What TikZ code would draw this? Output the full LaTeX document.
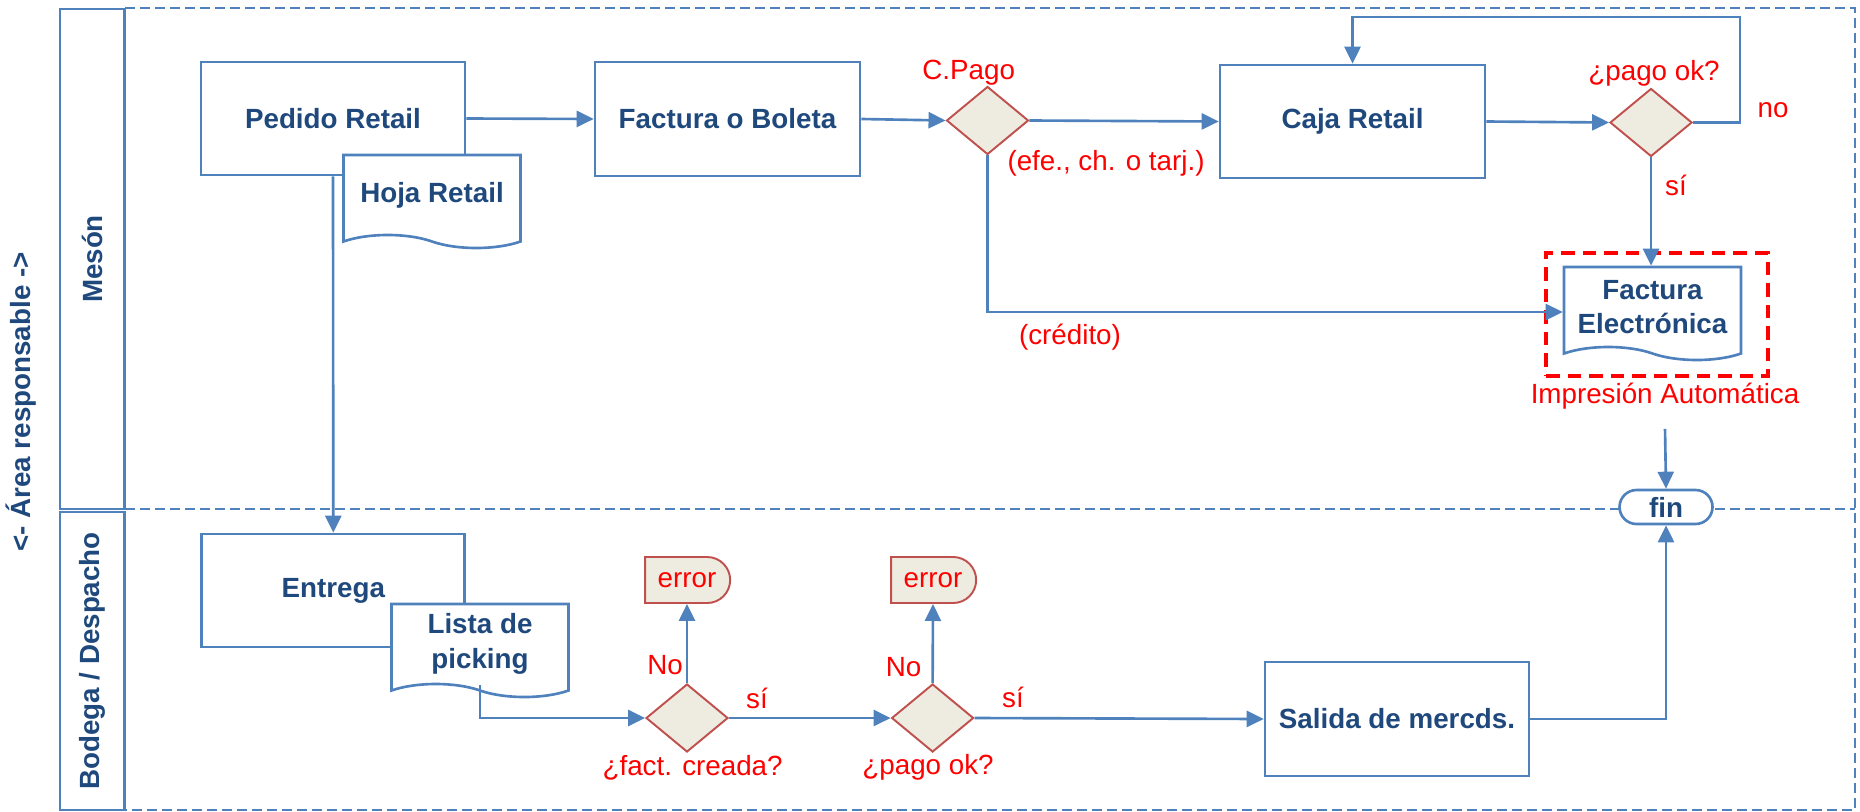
\documentclass[tikz,border=0pt]{standalone}
\usepackage{fontspec}
\setmainfont{Liberation Sans}
\usepackage{tikz}
\usetikzlibrary{shapes.geometric, shapes.symbols, shapes.misc, arrows.meta}

\definecolor{lineblue}{RGB}{79,129,189}
\definecolor{textblue}{RGB}{31,73,125}
\definecolor{decfill}{RGB}{238,236,225}
\definecolor{decline}{RGB}{192,80,77}
\newcommand{\sz}{\fontsize{7.9pt}{9.8pt}\selectfont}

\begin{document}
\begin{tikzpicture}[box/.style={rectangle, draw=lineblue, line width=0.75pt, fill=white, inner sep=0pt, minimum width=2.64cm, minimum height=1.13cm, font=\sz\bfseries, text=textblue}, doc/.style={tape, tape bend top=none, tape bend bottom=out and in, tape bend height=0.13cm, draw=lineblue, line width=0.75pt, fill=white, inner sep=0pt, minimum width=1.77cm, minimum height=0.93cm, align=center, font=\sz\bfseries, text=textblue}, dec/.style={diamond, draw=decline, line width=0.55pt, fill=decfill, inner sep=0pt, minimum width=0.82cm, minimum height=0.68cm}, err/.style={rounded rectangle, rounded rectangle left arc=none, draw=decline, line width=0.55pt, fill=decfill, inner sep=0pt, minimum width=0.85cm, minimum height=0.46cm, font=\sz, text=red}, term/.style={rounded rectangle, draw=lineblue, line width=0.75pt, fill=white, inner sep=0pt, minimum width=0.93cm, minimum height=0.34cm, font=\sz\bfseries, text=textblue}, lane/.style={rectangle, draw=lineblue, line width=0.75pt, inner sep=0pt, minimum height=0.645cm, font=\sz\bfseries, text=textblue}, lbl/.style={inner sep=0pt, font=\sz, text=red}, swim/.style={draw=lineblue, line width=0.6pt, dash pattern=on 0.1cm off 0.05cm}, auto/.style={rectangle, draw=red, line width=1.05pt, dash pattern=on 0.135cm off 0.08cm, inner sep=0pt, minimum width=2.215cm, minimum height=1.23cm}, n/.style={-{Triangle[length=0.17cm, width=0.16cm]}, draw=lineblue, line width=0.75pt}]
            \useasboundingbox (0,0) rectangle (18.6,-8.11);
            % lanes
            \draw[swim] (1.25,-0.08) -- (18.55,-0.08) -- (18.55,-8.10) -- (1.25,-8.10);
            \draw[swim] (1.25,-5.09) -- (18.55,-5.09);
            \node[lane, rotate=90, minimum width=5.00cm] (meson) at (0.9225,-2.59) {Mesón};
            \node[lane, rotate=90, minimum width=2.98cm] (bodega) at (0.9225,-6.61) {Bodega / Despacho};
            \node[font=\sz\bfseries, text=textblue, rotate=90] (area) at (0.21,-4.02) {<- Área responsable ->};
            % nodes
            \node[box] (pedido) at (3.33,-1.185) {Pedido Retail};
            \node[doc] (hoja) at (4.32,-1.95) {Hoja Retail};
            \node[box, minimum width=2.65cm, minimum height=1.14cm] (factura) at (7.275,-1.19) {Factura o Boleta};
            \node[dec] (cpago) at (9.875,-1.205) {};
            \node[box, minimum width=2.65cm] (caja) at (13.525,-1.215) {Caja Retail};
            \node[dec] (pagook) at (16.51,-1.225) {};
            \node[doc] (facelec) at (16.525,-3.07) {Factura\\Electrónica};
            \node[auto] (impbox) at (16.57,-3.145) {};
            \node[term] (fin) at (16.66,-5.07) {fin};
            \node[box, minimum width=2.63cm] (entrega) at (3.333,-5.905) {Entrega};
            \node[doc] (lista) at (4.80,-6.44) {Lista de\\picking};
            \node[dec] (dfact) at (6.87,-7.18) {};
            \node[err] (err1) at (6.87,-5.80) {error};
            \node[dec] (dpago) at (9.326,-7.18) {};
            \node[err] (err2) at (9.33,-5.80) {error};
            \node[box, minimum height=1.14cm] (salida) at (13.97,-7.19) {Salida de mercds.};
            % labels
            \node[lbl] (lcpago) at (9.687,-0.73) {C.Pago};
            \node[lbl] (lefe) at (11.06,-1.63) {(efe., ch. o tarj.)};
            \node[lbl] (lcred) at (10.70,-3.37) {(crédito)};
            \node[lbl] (lpago) at (16.54,-0.73) {¿pago ok?};
            \node[lbl] (lno) at (17.73,-1.10) {no};
            \node[lbl] (lsi) at (16.76,-1.85) {sí};
            \node[lbl] (limp) at (16.65,-3.96) {Impresión Automática};
            \node[lbl] (lfact) at (6.926,-7.68) {¿fact. creada?};
            \node[lbl] (lno1) at (6.65,-6.65) {No};
            \node[lbl] (lsi1) at (7.57,-6.98) {sí};
            \node[lbl] (lpago2) at (9.28,-7.67) {¿pago ok?};
            \node[lbl] (lno2) at (9.035,-6.67) {No};
            \node[lbl] (lsi2) at (10.13,-6.97) {sí};
            \coordinate (loop) at (17.40,-0.17);
            % edges
            \draw [n] (pedido.east) -- (factura.west);
            \draw [n] (factura.east) -- (cpago.west);
            \draw [n] (cpago.east) -- (caja.west);
            \draw [n] (caja.east) -- (pagook.west);
            \draw [n] (pagook.east) -| (loop) -| (caja.north);
            \draw [n] (pagook.south) -- (pagook.south |- facelec.north);
            \draw [n] (cpago.south) |- ([yshift=-0.05cm]facelec.west);
            \draw [n] (limp.south) ++(0,-0.19) -- (fin.north);
            \draw [n] (pedido.south) -- (entrega.north);
            \draw [n] (lista.south) |- (dfact.west);
            \draw [n] (dfact.north) -- (err1.south);
            \draw [n] (dfact.east) -- (dpago.west);
            \draw [n] (dpago.north) -- (err2.south);
            \draw [n] (dpago.east) -- (salida.west);
            \draw [n] (salida.east) -| (fin.south);
        \end{tikzpicture}
\end{document}
